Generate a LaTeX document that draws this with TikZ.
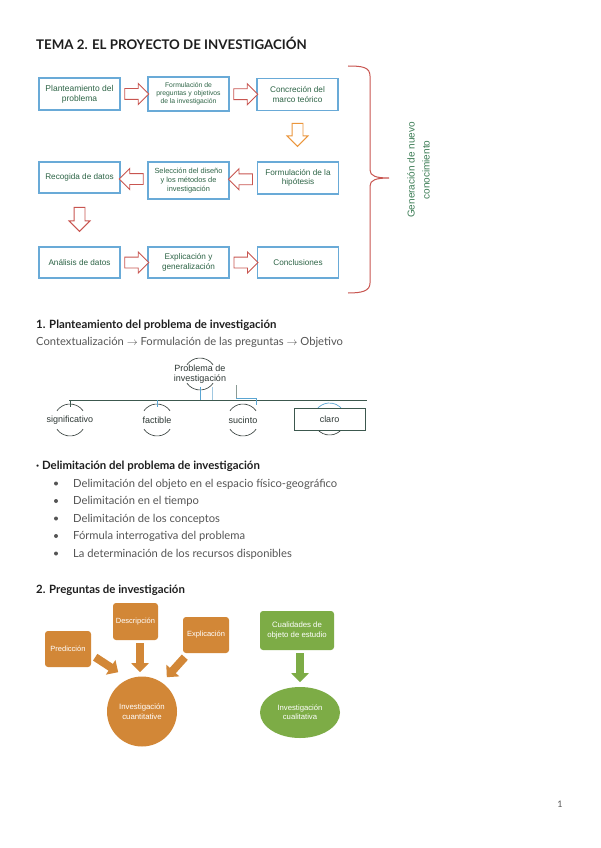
\documentclass[tikz,border=0pt]{standalone}
\usepackage{fontspec}
\setmainfont{Lato}
\newfontfamily\arialf{Liberation Sans}
\usetikzlibrary{shapes.arrows,shapes.geometric,calc,arrows.meta}
\definecolor{boxblue}{RGB}{105,170,215}
\definecolor{flowgreen}{RGB}{45,100,70}
\definecolor{gentext}{RGB}{60,125,85}
\definecolor{arrred}{RGB}{200,85,80}
\definecolor{arrorange}{RGB}{235,150,60}
\definecolor{trunkc}{RGB}{60,88,78}
\definecolor{lineblue}{RGB}{90,165,210}
\definecolor{lineblue2}{RGB}{160,200,225}
\definecolor{ochre}{RGB}{210,135,55}
\definecolor{leaf}{RGB}{125,172,70}
\definecolor{headc}{RGB}{30,30,30}
\definecolor{bodyc}{RGB}{85,85,85}
\definecolor{treetext}{RGB}{45,55,52}
\tikzset{
  flowbox/.style={draw=boxblue, line width=1.3pt, fill=white, minimum width=81pt,
    minimum height=32pt, align=center, inner sep=1pt, text=flowgreen,
    font=\arialf\fontsize{8.2}{9.6}\selectfont},
  hollowarrow/.style={single arrow, draw=arrred, fill=white, line width=0.9pt,
    minimum height=24pt, minimum width=20pt, inner xsep=0pt, inner ysep=5pt,
    single arrow head extend=5pt},
  orangearrow/.style={hollowarrow, draw=arrorange},
  titletext/.style={anchor=base west, inner sep=0, text=headc, font=\bfseries\fontsize{13.3}{15}\selectfont},
  headtext/.style={anchor=base west, inner sep=0, text=headc, font=\bfseries\fontsize{11.4}{13}\selectfont},
  bodytext/.style={anchor=base west, inner sep=0, text=bodyc, font=\fontsize{11.2}{13}\selectfont},
  treetxt/.style={align=center, inner sep=0, text=treetext, font=\arialf\fontsize{9}{10.5}\selectfont},
  arcline/.style={draw=treetext, line width=0.6pt},
  trunk/.style={draw=trunkc, line width=1pt},
  blueln/.style={draw=lineblue, line width=1pt},
  obox/.style={rounded corners=3pt, fill=ochre, text=white, align=center,
    minimum width=46pt, minimum height=36pt, inner sep=1pt,
    font=\arialf\fontsize{7.5}{9}\selectfont},
  oarrow/.style={draw=ochre, line width=8pt, -{Triangle[width=17pt,length=9pt]}},
  garrow/.style={draw=leaf, line width=8pt, -{Triangle[width=17pt,length=9pt]}},
  bulletdot/.style={fill=bodyc}
}
\begin{document}
\begin{tikzpicture}[x=1pt,y=1pt]
\useasboundingbox (0,0) rectangle (600,-848);
\fill[white] (0,0) rectangle (600,-848);

% Title
\node[titletext] (title) at (36,-50) {TEMA 2. EL PROYECTO DE INVESTIGACIÓN};

% Flow chart boxes
\node[flowbox, font=\arialf\fontsize{8.5}{10}\selectfont] (b1) at (79.5,-94) {Planteamiento del\\problema};
\node[flowbox, minimum height=34pt, font=\arialf\fontsize{6.8}{8.2}\selectfont] (b2) at (188.5,-94) {Formulación de\\preguntas y objetivos\\de la investigación};
\node[flowbox] (b3) at (297.5,-94.5) {Concreción del\\marco teórico};
\node[flowbox, minimum height=31pt] (b4) at (79.5,-177.5) {Recogida de datos};
\node[flowbox, minimum height=37pt, font=\arialf\fontsize{7.4}{8.8}\selectfont] (b5) at (188.5,-180.5) {Selección del diseño\\y los métodos de\\investigación};
\node[flowbox] (b6) at (298,-178) {Formulación de la\\hipótesis};
\node[flowbox, minimum height=31pt] (b7) at (79.5,-262.5) {Análisis de datos};
\node[flowbox, minimum height=31pt] (b8) at (188.5,-262.5) {Explicación y\\generalización};
\node[flowbox, minimum height=31pt] (b9) at (298,-262.5) {Conclusiones};

% Block arrows
\node[hollowarrow] (a12) at ($(b1.east)!0.5!(b2.west)$) {};
\node[hollowarrow] (a23) at ($(b2.east)!0.5!(b3.west)$) {};
\node[orangearrow, rotate=-90, minimum height=23pt] (a36) at ($(b3.south)+(0,-21)$) {};
\node[hollowarrow, rotate=180] (a65) at ($(b6.west)!0.5!(b5.east)$) {};
\node[hollowarrow, rotate=180] (a54) at ($(b5.west)!0.5!(b4.east)$) {};
\node[hollowarrow, rotate=-90] (a47) at ($(b4.south)+(0,-23)$) {};
\node[hollowarrow] (a78) at ($(b7.east)!0.5!(b8.west)$) {};
\node[hollowarrow] (a89) at ($(b8.east)!0.5!(b9.west)$) {};

% Brace
\draw[arrred, line width=1pt] (348,-66) .. controls (362,-66) and (370,-67) .. (370,-76)
  -- (370,-170) .. controls (370,-176) and (376,-178) .. (389,-178)
  .. controls (376,-178) and (370,-180) .. (370,-186)
  -- (370,-283) .. controls (370,-291) and (362,-293) .. (348,-293);
\node[rotate=90, align=center, inner sep=0, text=gentext, font=\arialf\fontsize{10}{15}\selectfont] (gen) at (418.5,-170) {Generación de nuevo\\conocimiento};

% Section 1
\node[headtext] (h1) at (36,-328) {1. Planteamiento del problema de investigación};
\node[bodytext] (ctx) at (36,-345) {Contextualización $\rightarrow$ Formulación de las preguntas $\rightarrow$ Objetivo};

% Tree
\coordinate (tl) at (69,-400);
\coordinate (tr) at (367,-400);
\node[treetxt] (prob) at (200,-374) {Problema de\\investigación};
\draw[arcline] ($(prob.center)+(35:16)$) arc[start angle=35, end angle=145, radius=16];
\draw[arcline] ($(prob.center)+(215:16)$) arc[start angle=215, end angle=325, radius=16];
\draw[trunk] (tl) -- (tr);
\draw[blueln] ([yshift=-3pt]prob.south) -- (prob.south |- tl);
\draw[draw=lineblue2, line width=1pt] ([xshift=12pt,yshift=-3pt]prob.south) -- ([xshift=12pt]prob.south |- tl);
\coordinate (sk1) at (236,-385);
\coordinate (sk2) at (236,-398);
\coordinate (sk3) at (256,-398);
\coordinate (sk4) at (256,-405);
\draw[draw=trunkc!60, line width=0.8pt] (sk1) -- (sk2);
\draw[blueln] (sk2) -- (sk3) -- (sk4);

\node[treetxt] (sig) at (70,-420) {significativo};
\node[treetxt] (fac) at (157,-420) {factible};
\node[treetxt] (suc) at (243,-420) {sucinto};
\foreach \n in {sig,fac,suc}{
  \draw[arcline] ($(\n.center)+(35:16)$) arc[start angle=35, end angle=145, radius=16];
  \draw[arcline] ($(\n.center)+(215:16)$) arc[start angle=215, end angle=325, radius=16];
}
\draw[trunk] (sig.center |- tl) -- ++(0,-7);
\draw[blueln] (fac.center |- tl) -- ++(0,-7);
\coordinate (clc) at (329.5,-419);
\draw[draw=lineblue, line width=0.7pt] ($(clc)+(35:16)$) arc[start angle=35, end angle=145, radius=16];
\draw[arcline] ($(clc)+(215:16)$) arc[start angle=215, end angle=325, radius=16];
\node[treetxt, draw=trunkc, fill=white, line width=0.9pt, minimum width=71pt, minimum height=22pt] (claro) at (clc) {claro};

% Delimitacion
\node[headtext] (h1b) at (36,-469) {· Delimitación del problema de investigación};
\fill[bulletdot] (56,-483.5) circle (2pt);
\node[bodytext] (d1) at (73,-487) {Delimitación del objeto en el espacio físico-geográfico};
\fill[bulletdot] (56,-501) circle (2pt);
\node[bodytext] (d2) at (73,-504.5) {Delimitación en el tiempo};
\fill[bulletdot] (56,-518.5) circle (2pt);
\node[bodytext] (d3) at (73,-522) {Delimitación de los conceptos};
\fill[bulletdot] (56,-536) circle (2pt);
\node[bodytext] (d4) at (73,-539.5) {Fórmula interrogativa del problema};
\fill[bulletdot] (56,-553.5) circle (2pt);
\node[bodytext] (d5) at (73,-557) {La determinación de los recursos disponibles};

% Section 2
\node[headtext] (h2) at (36,-593) {2. Preguntas de investigación};
\node[obox] (pred) at (68,-649) {Predicción};
\node[obox, minimum width=45pt, minimum height=37pt] (desc) at (135.5,-621.5) {Descripción};
\node[obox] (expl) at (206,-635) {Explicación};
\node[circle, fill=ochre, minimum size=70pt, inner sep=0, text=white, align=center,
  font=\arialf\fontsize{7.8}{9.5}\selectfont] (cuant) at (142,-711.5) {Investigación\\cuantitative};
\draw[oarrow] ($(pred.south east)+(4,10)$) -- ($(pred.south east)+(27,-5)$);
\draw[oarrow] ($(desc.south)+(4.5,-3)$) -- ($(desc.south)+(4.5,-32)$);
\draw[oarrow] ($(expl.south west)+(2,-4)$) -- ($(expl.south west)+(-16,-24)$);

\node[obox, fill=leaf, minimum width=74pt, minimum height=39pt, font=\arialf\fontsize{7.8}{9.3}\selectfont] (qual) at (297,-630.5) {Cualidades de\\objeto de estudio};
\node[ellipse, fill=leaf, minimum width=80pt, minimum height=51pt, inner sep=0, text=white, align=center,
  font=\arialf\fontsize{7.7}{9.3}\selectfont] (qell) at (300,-712.5) {Investigación\\cualitativa};
\draw[garrow] ($(qual.south)+(3,-3)$) -- ($(qual.south)+(3,-32)$);

% page number
\node[anchor=base, inner sep=0, text=bodyc, font=\fontsize{9}{10}\selectfont] (pg) at (560,-807) {1};
\end{tikzpicture}
\end{document}
